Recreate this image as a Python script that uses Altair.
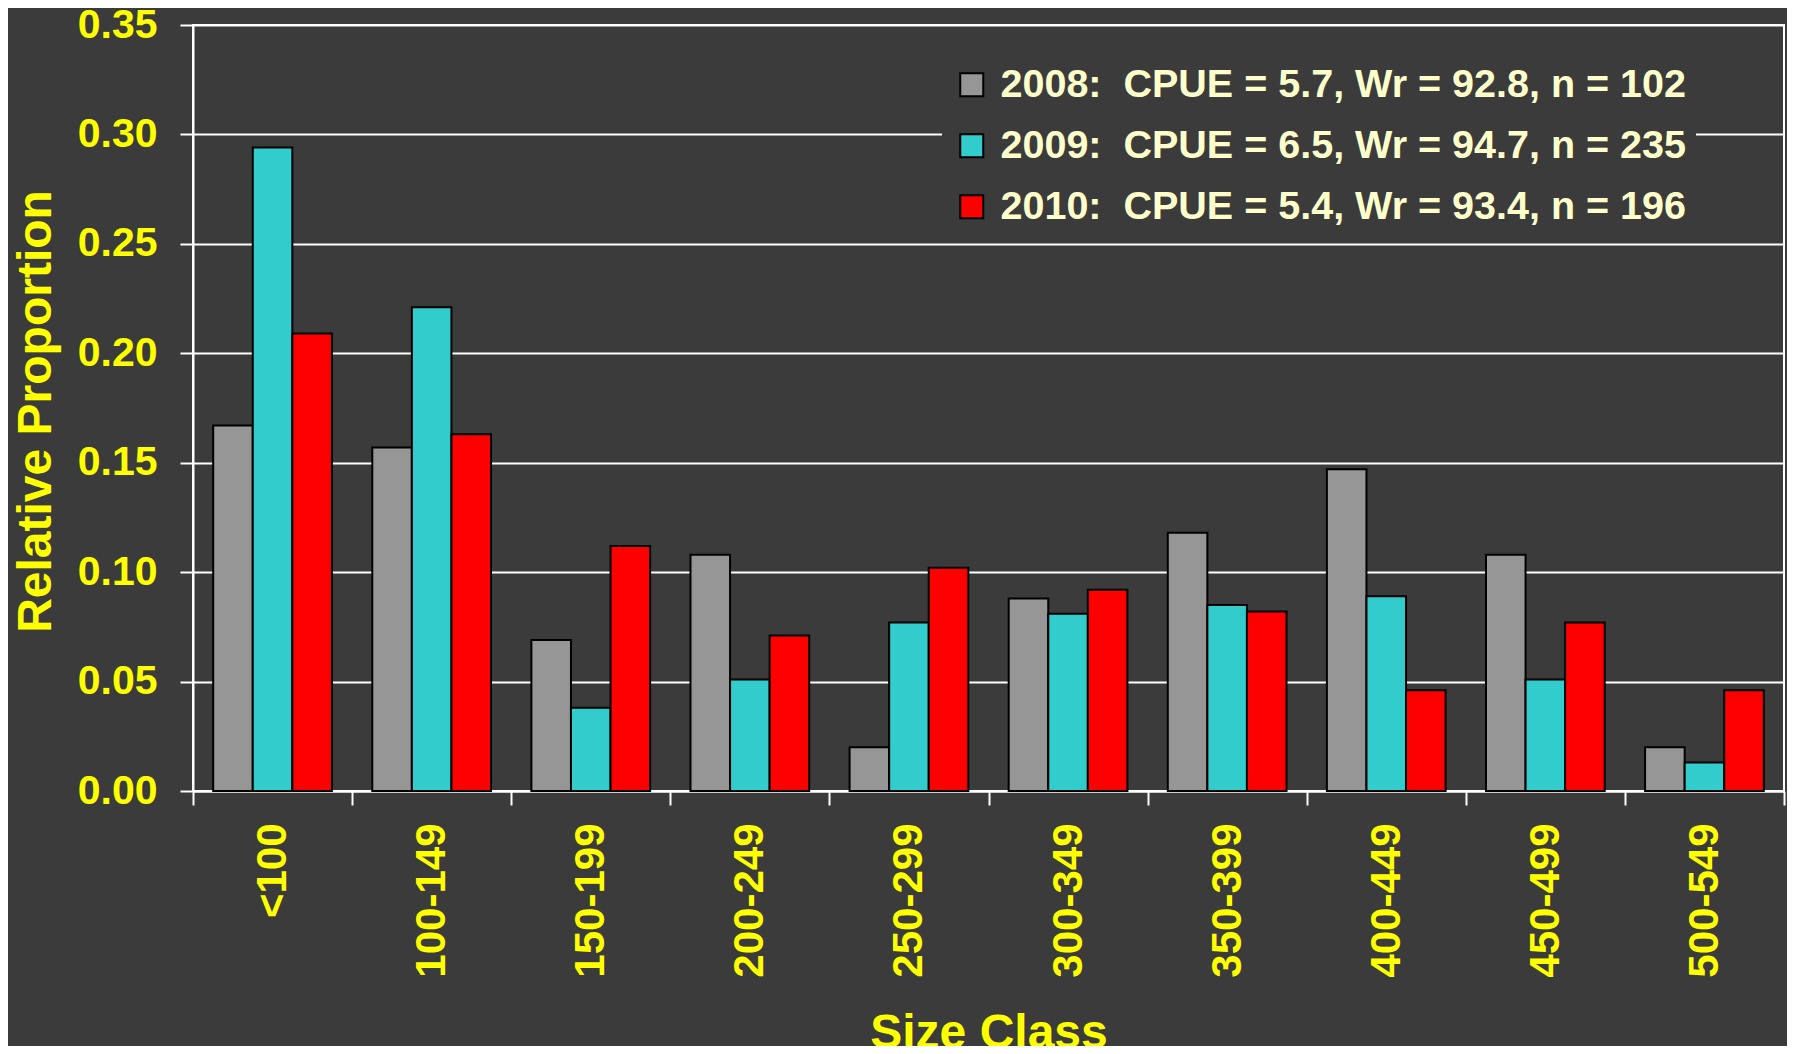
import altair as alt
import pandas as pd

size_classes = ["<100", "100-149", "150-199", "200-249", "250-299",
                "300-349", "350-399", "400-449", "450-499", "500-549"]
series_labels = ["2008:\u00a0 CPUE = 5.7, Wr = 92.8, n = 102",
                 "2009:\u00a0 CPUE = 6.5, Wr = 94.7, n = 235",
                 "2010:\u00a0 CPUE = 5.4, Wr = 93.4, n = 196"]
vals_2008 = [0.167, 0.157, 0.069, 0.108, 0.020, 0.088, 0.118, 0.147, 0.108, 0.020]
vals_2009 = [0.294, 0.221, 0.038, 0.051, 0.077, 0.081, 0.085, 0.089, 0.051, 0.013]
vals_2010 = [0.209, 0.163, 0.112, 0.071, 0.102, 0.092, 0.082, 0.046, 0.077, 0.046]
colors = ["#969696", "#33cccc", "#ff0000"]
y_ticks = [0.0, 0.05, 0.10, 0.15, 0.20, 0.25, 0.30, 0.35]

rows = []
for lab, vals in zip(series_labels, [vals_2008, vals_2009, vals_2010]):
    for sc, v in zip(size_classes, vals):
        rows.append({"size": sc, "series": lab, "value": v})
df = pd.DataFrame(rows)

BG = "#3b3b3b"
YEL = "#ffff00"
FONT = "Liberation Sans"

chart = alt.Chart(df).mark_bar(stroke="black", strokeWidth=2).encode(
    x=alt.X("size:N", sort=size_classes,
            scale=alt.Scale(paddingInner=0, paddingOuter=0),
            axis=alt.Axis(title="Size Class", labelAngle=-90, labelAlign="right",
                          labelBaseline="middle", labelFontSize=42, labelFont=FONT,
                          labelFontWeight="bold", labelColor=YEL, labelPadding=18,
                          tickBand="extent", tickSize=14, tickColor="white", tickWidth=2,
                          domainColor="white", domainWidth=2, grid=False,
                          titleFont=FONT, titleFontSize=48, titleFontWeight="bold",
                          titleColor=YEL, titleBaseline="alphabetic", titleY=256,
                          titleAlign="center")),
    xOffset=alt.XOffset("series:N", sort=series_labels,
                        scale=alt.Scale(paddingOuter=0.51, paddingInner=0)),
    y=alt.Y("value:Q", scale=alt.Scale(domain=[0, 0.35], nice=False),
            axis=alt.Axis(title="Relative Proportion", values=y_ticks, format=".2f",
                          labelFontSize=41, labelFont=FONT, labelFontWeight="bold",
                          labelColor=YEL, labelPadding=23, tickSize=13,
                          tickColor="white", tickWidth=2, domainColor="white",
                          domainWidth=2, grid=True, gridColor="white", gridWidth=2,
                          titleFont=FONT, titleFontSize=48, titleFontWeight="bold",
                          titleColor=YEL, titleBaseline="alphabetic", titleX=-143,
                          titleY=386, titleAlign="center", titleAngle=270)),
    color=alt.Color("series:N", sort=series_labels,
                    scale=alt.Scale(domain=series_labels, range=colors),
                    legend=alt.Legend(title=None, orient="none", legendX=749, legendY=30,
                                      fillColor=BG, padding=10, symbolType="square",
                                      symbolSize=529, symbolStrokeColor="black",
                                      symbolStrokeWidth=2, symbolOpacity=1,
                                      labelFont=FONT, labelFontSize=39.5,
                                      labelFontWeight="bold", labelColor="#ffffcc",
                                      labelLimit=1000, labelOffset=9, rowPadding=20)),
).properties(
    width=1591, height=766, background=BG,
    autosize=alt.AutoSizeParams(type="none"),
    padding={"left": 185, "top": 17, "right": 3, "bottom": 255},
).configure_view(stroke="white", strokeWidth=2)

chart.save("out.html", embed_options={"renderer": "svg", "actions": False})
